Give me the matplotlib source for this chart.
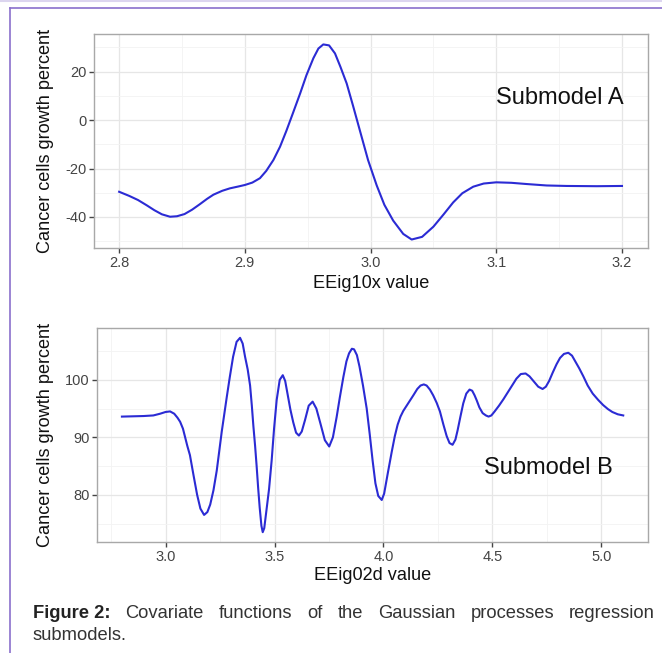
import matplotlib
matplotlib.use('Agg')
import matplotlib.pyplot as plt
from matplotlib.lines import Line2D
from matplotlib.ticker import MultipleLocator, FormatStrFormatter

plt.rcParams['font.family'] = ['Liberation Sans', 'DejaVu Sans']
plt.rcParams['axes.unicode_minus'] = False

# Submodel A: covariate function
xa = [2.800, 2.808, 2.815, 2.822, 2.828, 2.834, 2.8405, 2.846, 2.852, 2.858,
      2.864, 2.870, 2.875, 2.882, 2.888, 2.895, 2.900, 2.906, 2.912, 2.917,
      2.9227, 2.928, 2.933, 2.938, 2.944, 2.949, 2.9545, 2.9585, 2.9624, 2.967,
      2.9717, 2.976, 2.981, 2.986, 2.9916, 2.998, 3.0049, 3.011, 3.018, 3.026,
      3.0327, 3.041, 3.050, 3.058, 3.0657, 3.073, 3.0817, 3.090, 3.100, 3.112,
      3.124, 3.140, 3.156, 3.180, 3.200]
ya = [-29.6, -31.3, -33.0, -35.2, -37.2, -38.9, -39.9, -39.7, -38.8, -37.0,
      -34.8, -32.5, -30.8, -29.2, -28.2, -27.4, -26.8, -25.8, -24.0, -21.0,
      -16.5, -11.0, -4.5, 2.5, 11.0, 18.5, 25.5, 29.5, 31.2, 30.8,
      27.5, 22.0, 15.1, 6.0, -4.5, -16.5, -27.0, -35.0, -41.5, -47.0,
      -49.3, -48.2, -44.0, -39.0, -34.0, -30.2, -27.5, -26.2, -25.7, -25.9,
      -26.4, -27.0, -27.2, -27.3, -27.2]

# Submodel B
xb = [2.800, 2.900, 2.944, 2.975, 3.000, 3.021, 3.040, 3.055, 3.067, 3.080,
      3.090, 3.100, 3.112, 3.128, 3.145, 3.160, 3.177, 3.192, 3.205, 3.220,
      3.235, 3.248, 3.258, 3.270, 3.281, 3.295, 3.310, 3.326, 3.342, 3.354,
      3.365, 3.377, 3.388, 3.396, 3.403, 3.411, 3.418, 3.425, 3.432, 3.440,
      3.446, 3.453, 3.462, 3.475, 3.487, 3.498, 3.510, 3.524, 3.538, 3.549,
      3.560, 3.573, 3.586, 3.599, 3.612, 3.625, 3.640, 3.657, 3.675, 3.692,
      3.710, 3.731, 3.751, 3.768, 3.785, 3.800, 3.816, 3.830, 3.842, 3.855,
      3.865, 3.878, 3.890, 3.906, 3.923, 3.937, 3.950, 3.963, 3.976, 3.992,
      4.003, 4.020, 4.038, 4.052, 4.065, 4.078, 4.091, 4.115, 4.137, 4.155,
      4.170, 4.185, 4.198, 4.213, 4.228, 4.244, 4.259, 4.275, 4.290, 4.303,
      4.317, 4.330, 4.340, 4.353, 4.366, 4.380, 4.395, 4.407, 4.418, 4.428,
      4.440, 4.455, 4.470, 4.482, 4.495, 4.510, 4.530, 4.550, 4.570, 4.590,
      4.610, 4.630, 4.652, 4.670, 4.690, 4.710, 4.730, 4.745, 4.760, 4.777,
      4.794, 4.810, 4.828, 4.848, 4.865, 4.880, 4.898, 4.917, 4.937, 4.960,
      4.985, 5.008, 5.030, 5.050, 5.075, 5.100]
yb = [93.6, 93.7, 93.8, 94.1, 94.4, 94.5, 94.1, 93.4, 92.7, 91.5,
      90.0, 88.5, 86.9, 83.5, 80.0, 77.6, 76.5, 77.0, 78.3, 80.8,
      84.2, 88.0, 91.0, 94.2, 97.0, 100.5, 104.0, 106.6, 107.3, 106.3,
      104.0, 101.8, 99.0, 95.5, 92.0, 88.5, 85.0, 81.2, 77.8, 74.6,
      73.5, 74.2, 77.0, 81.0, 86.0, 91.5, 96.5, 100.0, 100.8, 99.8,
      97.5, 94.8, 92.6, 90.8, 90.3, 91.0, 93.0, 95.5, 96.2, 95.0,
      92.5, 89.5, 88.4, 90.0, 93.5, 97.0, 100.5, 103.2, 104.6, 105.4,
      105.3, 104.3, 102.3, 99.0, 95.0, 90.5, 86.0, 82.0, 79.8, 79.1,
      80.2, 83.8, 87.5, 90.2, 92.2, 93.6, 94.6, 96.0, 97.3, 98.4,
      99.0, 99.2, 99.0, 98.3, 97.3, 96.0, 94.5, 92.2, 90.2, 89.0,
      88.7, 89.6, 91.2, 93.6, 95.9, 97.6, 98.3, 98.1, 97.3, 96.4,
      95.2, 94.2, 93.8, 93.6, 93.8, 94.5, 95.5, 96.6, 97.8, 99.0,
      100.2, 101.0, 101.1, 100.6, 99.7, 98.8, 98.4, 98.8, 99.8, 101.3,
      102.7, 103.8, 104.5, 104.7, 104.2, 103.2, 102.0, 100.6, 99.0, 97.6,
      96.5, 95.6, 94.9, 94.4, 94.0, 93.8]

ylabel = 'Cancer cells growth percent'
xlabels = ['EEig10x value', 'EEig02d value']
tags = ['Submodel A', 'Submodel B']
caption_bold = 'Figure 2:'
caption_words = ['Covariate', 'functions', 'of', 'the', 'Gaussian',
                 'processes', 'regression']
caption_line2 = 'submodels.'

W, H = 662, 653
LINE = '#2b2bd4'


def style_axes(ax, xmaj, ymaj):
    ax.set_facecolor('white')
    ax.xaxis.set_major_locator(MultipleLocator(xmaj))
    ax.xaxis.set_minor_locator(MultipleLocator(xmaj / 2))
    ax.yaxis.set_major_locator(MultipleLocator(ymaj))
    ax.yaxis.set_minor_locator(MultipleLocator(ymaj / 2))
    ax.xaxis.set_major_formatter(FormatStrFormatter('%.1f'))
    ax.grid(which='major', color='#e6e6e6', lw=0.9)
    ax.grid(which='minor', color='#f3f3f3', lw=0.6)
    ax.set_axisbelow(True)
    for s in ax.spines.values():
        s.set_color('#a8a8a8')
        s.set_linewidth(1.0)
    ax.tick_params(which='major', length=3.5, width=1.0, color='#444444',
                   labelsize=10.5, labelcolor='#444444', pad=2)
    ax.tick_params(which='minor', length=0)


fig = plt.figure(figsize=(W / 100, H / 100), dpi=100)

# panel A
axa = fig.add_axes([94 / W, 1 - 248 / H, 554 / W, 214 / H])
axa.plot(xa, ya, color=LINE, lw=1.5, solid_joinstyle='round')
axa.set_xlim(2.780, 3.2207)
axa.set_ylim(-52.8, 35.5)
style_axes(axa, 0.1, 20)
axa.yaxis.set_major_formatter(FormatStrFormatter('%d'))
fig.text(560 / W, 1 - 98 / H, tags[0], fontsize=17, ha='center',
         va='center', color='#111111')

# panel B
axb = fig.add_axes([97.3 / W, 1 - 542.3 / H, 551 / W, 214.6 / H])
axb.plot(xb, yb, color=LINE, lw=1.5, solid_joinstyle='round')
axb.set_xlim(2.687, 5.215)
axb.set_ylim(71.74, 109.06)
style_axes(axb, 0.5, 10)
axb.yaxis.set_major_formatter(FormatStrFormatter('%d'))
fig.text(548 / W, 1 - 468 / H, tags[1], fontsize=17, ha='center',
         va='center', color='#111111')

for ax, xl, yc, xly in ((axa, xlabels[0], 141, 283), (axb, xlabels[1], 435, 575)):
    fig.text(46 / W, 1 - yc / H, ylabel, rotation=90, fontsize=13.1,
             ha='center', va='center', color='#111111')
    bb = ax.get_position()
    fig.text((bb.x0 + bb.x1) / 2, 1 - xly / H, xl, fontsize=13.1,
             ha='center', va='center', color='#111111')

# purple page frame
fig.add_artist(Line2D([0, 1], [1 - 1 / H, 1 - 1 / H], transform=fig.transFigure,
                      color='#dcd5ef', lw=1.5))
fig.add_artist(Line2D([10 / W, 1], [1 - 8 / H, 1 - 8 / H], transform=fig.transFigure,
                      color='#8a6fcc', lw=1.2))
fig.add_artist(Line2D([10 / W, 10 / W], [0, 1 - 8 / H], transform=fig.transFigure,
                      color='#8a6fcc', lw=1.2))

# justified caption, first line
left, right = 33, 655
cy1, cy2 = 613, 636
fig.canvas.draw()
r = fig.canvas.get_renderer()
items = [fig.text(0, 1 - cy1 / H, caption_bold, fontsize=13.2, weight='bold',
                  color='#222222', va='center')]
for w in caption_words:
    items.append(fig.text(0, 1 - cy1 / H, w, fontsize=13.2, color='#333333',
                          va='center'))
widths = [t.get_window_extent(r).width for t in items]
gap = (right - left - sum(widths)) / (len(items) - 1)
x = left
for t, wd in zip(items, widths):
    t.set_x(x / W)
    x += wd + gap
fig.text(left / W, 1 - cy2 / H, caption_line2, fontsize=13.2, color='#333333',
         va='center')

fig.savefig('out.png', dpi=100)
